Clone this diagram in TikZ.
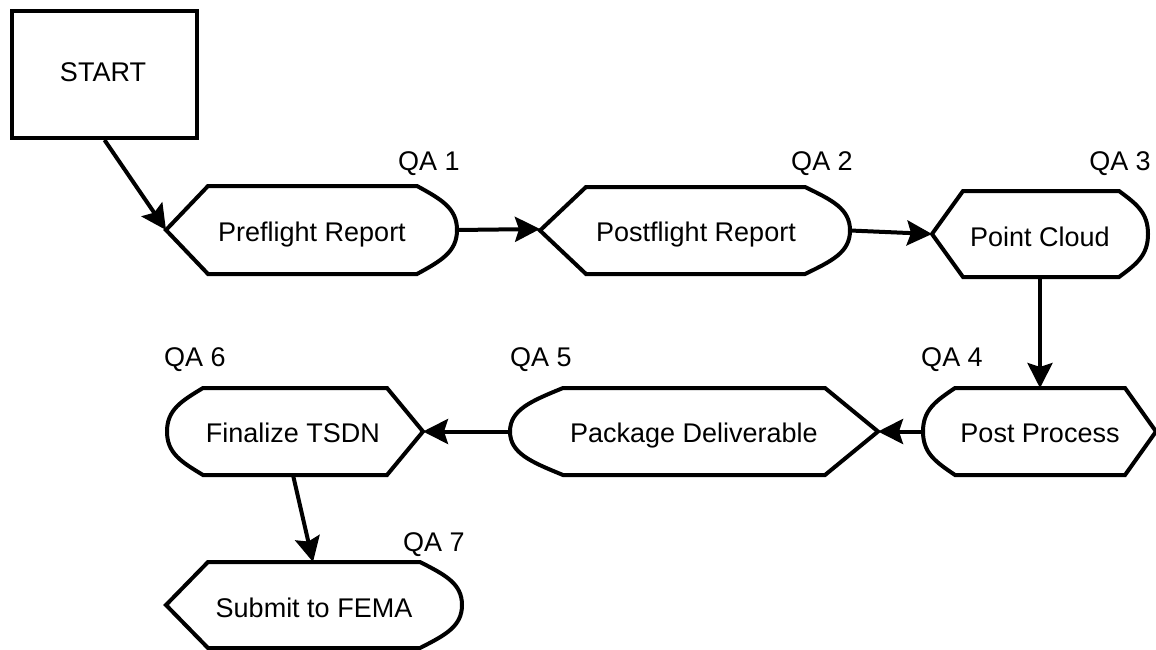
\documentclass[tikz,border=0pt]{standalone}
\usepackage{fontspec}
\setmainfont{Liberation Sans}
\usetikzlibrary{arrows.meta}
\tikzset{
  shapeline/.style={line width=4pt, line join=miter},
  arr/.style={line width=4pt, -{Stealth[length=25pt,width=25pt,inset=4pt]}},
  lbl/.style={font=\fontsize{27}{32}\selectfont, inner sep=0pt, anchor=base},
  startbox/.style={draw, line width=4pt, minimum width=185pt, minimum height=127pt, inner sep=0pt, anchor=north west},
}
% pointed left, rounded right
\newcommand\dispRshape[7]{% #1 name, #2 xl, #3 xtl, #4 xtr, #5 xr, #6 yt, #7 yb
  \pgfmathsetmacro\dsym{(#6+#7)/2}
  \pgfmathsetmacro\dshh{(#7-#6)/2}
  \pgfmathsetmacro\dsrw{#5-#4}
  \draw[shapeline] (#2,\dsym) -- (#3,#6) -- (#4,#6)
    .. controls ({#4+0.6*\dsrw},{#6+0.3*\dshh}) and (#5,{\dsym-0.5*\dshh}) .. (#5,\dsym)
    .. controls (#5,{\dsym+0.5*\dshh}) and ({#4+0.6*\dsrw},{#7-0.3*\dshh}) .. (#4,#7)
    -- (#3,#7) -- cycle;
  \coordinate (#1-w) at (#2,\dsym);
  \coordinate (#1-e) at (#5,\dsym);
}
% rounded left, pointed right
\newcommand\dispLshape[7]{% #1 name, #2 xl, #3 xtl, #4 xtr, #5 xr, #6 yt, #7 yb
  \pgfmathsetmacro\dsym{(#6+#7)/2}
  \pgfmathsetmacro\dshh{(#7-#6)/2}
  \pgfmathsetmacro\dsrw{#3-#2}
  \draw[shapeline] (#5,\dsym) -- (#4,#6) -- (#3,#6)
    .. controls ({#3-0.6*\dsrw},{#6+0.3*\dshh}) and (#2,{\dsym-0.5*\dshh}) .. (#2,\dsym)
    .. controls (#2,{\dsym+0.5*\dshh}) and ({#3-0.6*\dsrw},{#7-0.3*\dshh}) .. (#3,#7)
    -- (#4,#7) -- cycle;
  \coordinate (#1-w) at (#2,\dsym);
  \coordinate (#1-e) at (#5,\dsym);
}
\begin{document}
\begin{tikzpicture}[x=1pt,y=-1pt]
  \useasboundingbox (0,0) rectangle (1156,650);

  % START
  \node[startbox] (start) at (10,9) {};
  \node[lbl] (starttxt) at (103,82) {START};

  % shapes
  \dispRshape{pre}{166}{208}{417}{457}{186}{274}
  \dispRshape{post}{540}{586}{805}{850}{187}{274}
  \dispRshape{pc}{932}{963}{1119}{1148}{191}{277}
  \dispLshape{pp}{923}{955}{1125}{1156}{388}{475}
  \dispLshape{pkg}{510}{563}{825}{878}{388}{475}
  \dispLshape{fin}{167}{203}{387}{423}{388}{475}
  \dispRshape{sub}{166}{208}{420}{462}{562}{648}

  % texts
  \node[lbl] (pretxt) at (312,241) {Preflight Report};
  \node[lbl] (posttxt) at (696,241) {Postflight Report};
  \node[lbl] (pctxt) at (1040,246) {Point Cloud};
  \node[lbl] (pptxt) at (1040,442) {Post Process};
  \node[lbl] (pkgtxt) at (694,442) {Package Deliverable};
  \node[lbl] (fintxt) at (293,442) {Finalize TSDN};
  \node[lbl] (subtxt) at (314,617) {Submit to FEMA};

  % QA labels
  \node[lbl] (qa1) at (429,170) {QA 1};
  \node[lbl] (qa2) at (822,170) {QA 2};
  \node[lbl] (qa3) at (1120,170) {QA 3};
  \node[lbl] (qa4) at (952,366) {QA 4};
  \node[lbl] (qa5) at (541,366) {QA 5};
  \node[lbl] (qa6) at (195,366) {QA 6};
  \node[lbl] (qa7) at (434,551) {QA 7};

  % connector anchor points
  \coordinate (pc-s) at (1040,277);
  \coordinate (pp-n) at (1040,388);
  \coordinate (fin-s) at (293,475);
  \coordinate (sub-n) at (313,562);
  \coordinate (post-in) at (540,229);

  % connectors
  \draw[arr] (start.south) -- (pre-w);
  \draw[arr] (pre-e) -- (post-in);
  \draw[arr] (post-e) -- (pc-w);
  \draw[arr] (pc-s) -- (pp-n);
  \draw[arr] (pp-w) -- (pkg-e);
  \draw[arr] (pkg-w) -- (fin-e);
  \draw[arr] (fin-s) -- (sub-n);
\end{tikzpicture}
\end{document}
